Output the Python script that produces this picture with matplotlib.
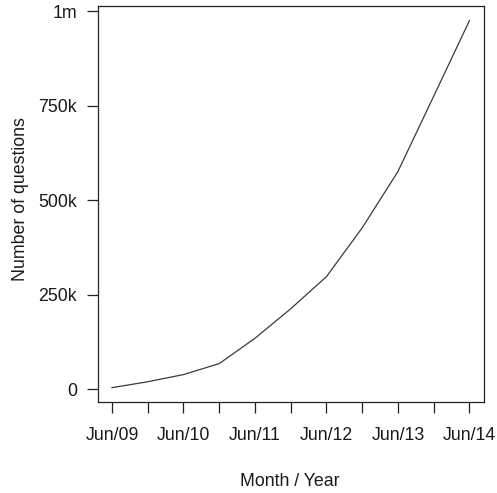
import matplotlib
matplotlib.use("Agg")
import matplotlib.pyplot as plt

periods = ["Jun/09", "Dec/09", "Jun/10", "Dec/10", "Jun/11", "Dec/11",
           "Jun/12", "Dec/12", "Jun/13", "Dec/13", "Jun/14"]
questions = [4500, 20000, 39000, 68000, 135000, 213000,
             298000, 427000, 576000, 775000, 975000]
tick_labels = ["Jun/09", "", "Jun/10", "", "Jun/11", "", "Jun/12", "",
               "Jun/13", "", "Jun/14"]
ytick_vals = [0, 250000, 500000, 750000, 1000000]
ytick_labels = ["0", "250k", "500k", "750k", "1m"]

plt.rcParams['font.family'] = ['Liberation Sans', 'DejaVu Sans']
W, H = 497, 493
fig = plt.figure(figsize=(W / 100, H / 100), dpi=100)
ax = fig.add_axes([97.7 / W, 1 - 402.3 / H, (483.7 - 97.7) / W, (402.3 - 6) / H])

x = list(range(len(periods)))
ax.plot(x, questions, color="#3a3a3a", lw=0.9)

ymin, ymax = min(questions), max(questions)
pad = (ymax - ymin) * 0.04
ax.set_ylim(ymin - pad, ymax + pad)
ax.set_xlim(-0.4, len(periods) - 1 + 0.4)

ax.set_xticks(x)
ax.set_xticklabels(tick_labels)
ax.set_yticks(ytick_vals)
ax.set_yticklabels(ytick_labels)

fs = 12.8
ax.tick_params(axis='both', length=8, width=0.9, color="#222222",
               labelsize=fs, labelcolor="#1a1a1a")
ax.tick_params(axis='x', pad=10)
ax.tick_params(axis='y', pad=7)
for s in ax.spines.values():
    s.set_linewidth(0.9)
    s.set_color("#222222")

fig.text(290 / W, 1 - 482 / H, "Month / Year", ha="center", va="center",
         fontsize=fs, color="#1a1a1a")
fig.text(21 / W, 1 - 199 / H, "Number of questions", ha="center", va="center",
         rotation=90, fontsize=fs, color="#1a1a1a")

fig.savefig("out.png", dpi=100)
